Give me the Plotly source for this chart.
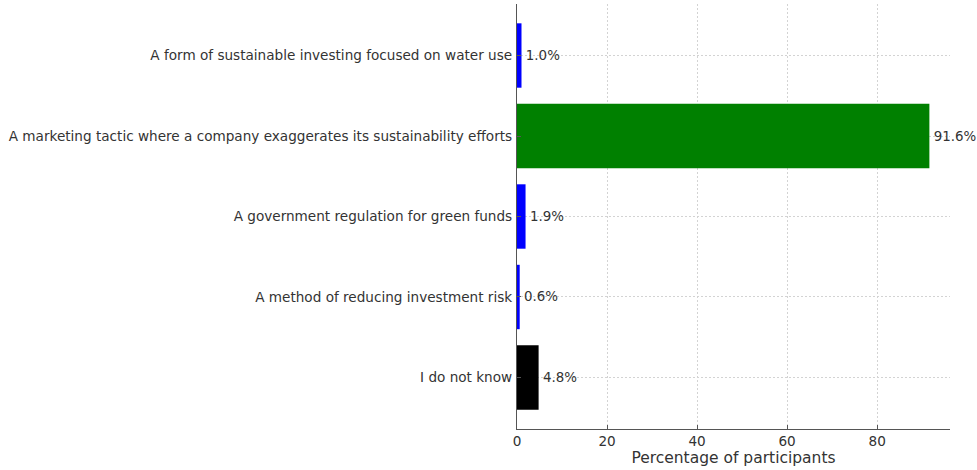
import plotly.graph_objects as go

categories = [
    "I do not know",
    "A method of reducing investment risk",
    "A government regulation for green funds",
    "A marketing tactic where a company exaggerates its sustainability efforts",
    "A form of sustainable investing focused on water use",
]
values = [4.8, 0.6, 1.9, 91.6, 1.0]
colors = ["black", "blue", "blue", "green", "blue"]
value_labels = ["\u200a" + f"{v:.1f}%" for v in values]
x_ticks = [0, 20, 40, 60, 80]

fig = go.Figure()
fig.add_trace(go.Bar(
    y=categories, x=values, orientation="h",
    marker=dict(color=colors, line=dict(width=0)),
    width=0.8,
    text=value_labels, textposition="outside",
    textfont=dict(family="DejaVu Sans", size=13.4, color="#333333"),
    cliponaxis=False,
))

fig.update_layout(
    width=977, height=470,
    paper_bgcolor="white", plot_bgcolor="white",
    margin=dict(l=517, r=27, t=4, b=41, autoexpand=False),
    font=dict(family="DejaVu Sans", size=13.6, color="#333333"),
    showlegend=False,
    bargap=0.2,
)
fig.update_xaxes(
    range=[0, 96.18], tickvals=x_ticks, ticktext=[str(t) for t in x_ticks],
    showgrid=True, gridcolor="#d3d3d3", griddash="2px,2px", gridwidth=1,
    showline=True, linecolor="#555555", linewidth=1.2,
    ticks="inside", ticklen=4, tickcolor="#555555",
    zeroline=False, automargin=False, ticklabelstandoff=0,
    title=dict(text="Percentage of participants", font=dict(size=15.5, color="#333333"), standoff=2),
)
fig.update_yaxes(
    categoryorder="array", categoryarray=categories,
    range=[-0.64, 4.64],
    showgrid=True, gridcolor="#d3d3d3", griddash="2px,2px", gridwidth=1,
    showline=True, linecolor="#555555", linewidth=1.2,
    ticks="inside", ticklen=4, tickcolor="#555555",
    ticklabelstandoff=1, automargin=False,
)

fig.write_html("out.html", config={"displayModeBar": False},
               post_script="document.body.style.margin='0';document.body.style.overflow='hidden';")
